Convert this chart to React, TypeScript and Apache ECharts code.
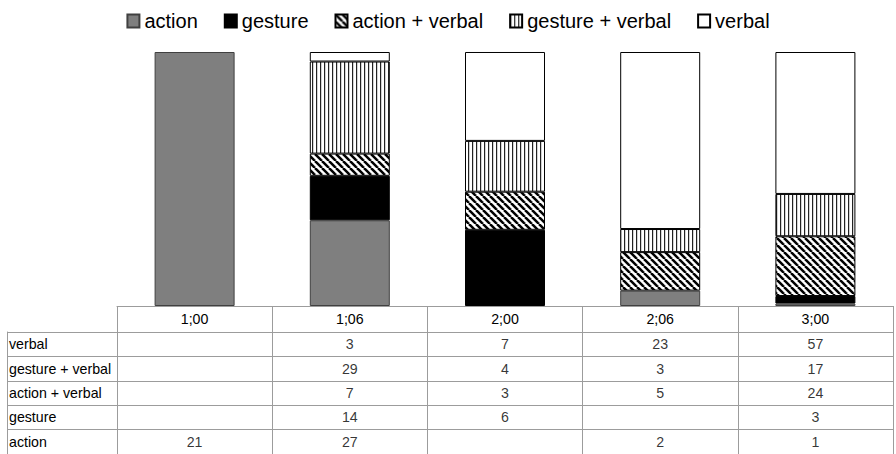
import React, { useEffect, useRef } from 'react';
import * as echarts from 'echarts';

const categories = ['1;00', '1;06', '2;00', '2;06', '3;00'];
const actionValues: (number | null)[] = [21, 27, null, 2, 1];
const gestureValues: (number | null)[] = [null, 14, 6, null, 3];
const actionVerbalValues: (number | null)[] = [null, 7, 3, 5, 24];
const gestureVerbalValues: (number | null)[] = [null, 29, 4, 3, 17];
const verbalValues: (number | null)[] = [null, 3, 7, 23, 57];
const tableRows = ['verbal', 'gesture + verbal', 'action + verbal', 'gesture', 'action'];

const FONT = 'Liberation Sans, Arial, sans-serif';
const GRID_LINE = '#9c9c9c';
const TABLE_FONT = 14.2;

function makeVertical(): HTMLCanvasElement {
  const c = document.createElement('canvas');
  c.width = 4;
  c.height = 4;
  const ctx = c.getContext('2d')!;
  ctx.fillStyle = '#fff';
  ctx.fillRect(0, 0, 4, 4);
  ctx.fillStyle = '#222';
  ctx.fillRect(0, 0, 1.2, 4);
  return c;
}

function makeDiagonal(): HTMLCanvasElement {
  const s = 7;
  const c = document.createElement('canvas');
  c.width = s;
  c.height = s;
  const ctx = c.getContext('2d')!;
  ctx.fillStyle = '#fff';
  ctx.fillRect(0, 0, s, s);
  ctx.strokeStyle = '#000';
  ctx.lineWidth = 2.5;
  for (let k = -1; k <= 1; k++) {
    ctx.beginPath();
    ctx.moveTo(k * s, 0);
    ctx.lineTo(k * s + s, s);
    ctx.stroke();
  }
  return c;
}

export default function App() {
  const ref = useRef<HTMLDivElement>(null);
  useEffect(() => {
    if (!ref.current) return;
    const chart = echarts.init(ref.current, null, { renderer: 'svg' });

    const groups: { name: string; values: (number | null)[]; style: any }[] = [
      { name: 'action', values: actionValues, style: { color: '#7f7f7f', borderColor: '#404040', borderWidth: 1 } },
      { name: 'gesture', values: gestureValues, style: { color: '#000000', borderColor: '#000', borderWidth: 1 } },
      {
        name: 'action + verbal',
        values: actionVerbalValues,
        style: { color: { image: makeDiagonal(), repeat: 'repeat' }, borderColor: '#000', borderWidth: 1 },
      },
      {
        name: 'gesture + verbal',
        values: gestureVerbalValues,
        style: { color: { image: makeVertical(), repeat: 'repeat' }, borderColor: '#000', borderWidth: 1 },
      },
      { name: 'verbal', values: verbalValues, style: { color: '#ffffff', borderColor: '#000', borderWidth: 1 } },
    ];

    const totals = categories.map((_, i) =>
      groups.reduce((s, g) => s + (g.values[i] ?? 0), 0)
    );

    const barSeries = groups.map((g) => ({
      name: g.name,
      type: 'bar',
      stack: 'total',
      xAxisIndex: 0,
      yAxisIndex: 0,
      barWidth: 80,
      itemStyle: g.style,
      data: g.values.map((v, i) => (v == null ? null : (v / totals[i]) * 100)),
    }));

    const tableData: [number, number, number][] = [];
    tableRows.forEach((rowName, r) => {
      const g = groups.find((x) => x.name === rowName)!;
      g.values.forEach((v, c) => {
        if (v != null) tableData.push([c, r, v]);
      });
    });

    chart.setOption({
      animation: false,
      textStyle: { fontFamily: FONT },
      legend: {
        data: groups.map((g) => g.name),
        top: 6,
        left: 'center',
        icon: 'rect',
        itemWidth: 12,
        itemHeight: 13,
        itemGap: 26,
        textStyle: { fontSize: 20, color: '#000', fontFamily: FONT },
      },
      grid: [
        { left: 117, right: 3, top: 52, height: 254 },
        { left: 117, right: 3, top: 332, height: 123 },
      ],
      xAxis: [
        {
          type: 'category',
          gridIndex: 0,
          data: categories,
          axisLine: { show: true, lineStyle: { color: GRID_LINE, width: 1 } },
          axisTick: { show: true, length: 26, lineStyle: { color: GRID_LINE, width: 1 } },
          axisLabel: {
            margin: 13,
            verticalAlign: 'middle',
            fontSize: TABLE_FONT,
            color: '#000',
            fontFamily: FONT,
          },
          splitLine: { show: false },
        },
        {
          type: 'category',
          gridIndex: 1,
          data: categories,
          position: 'top',
          axisLine: { show: true, lineStyle: { color: GRID_LINE, width: 1 } },
          axisTick: { show: false },
          axisLabel: { show: false },
          splitLine: { show: true, lineStyle: { color: GRID_LINE, width: 1 } },
        },
      ],
      yAxis: [
        { type: 'value', gridIndex: 0, min: 0, max: 100, show: false },
        {
          type: 'category',
          gridIndex: 1,
          data: tableRows,
          inverse: true,
          position: 'left',
          axisLine: { show: true, lineStyle: { color: GRID_LINE, width: 1 } },
          axisTick: { show: true, length: 110, lineStyle: { color: GRID_LINE, width: 1 } },
          axisLabel: {
            align: 'left',
            margin: 108,
            fontSize: TABLE_FONT,
            color: '#000',
            fontFamily: FONT,
          },
          splitLine: { show: true, lineStyle: { color: GRID_LINE, width: 1 } },
        },
        {
          type: 'category',
          gridIndex: 1,
          data: tableRows,
          inverse: true,
          position: 'left',
          offset: 110,
          axisLine: { show: true, lineStyle: { color: GRID_LINE, width: 1 } },
          axisTick: { show: false },
          axisLabel: { show: false },
          splitLine: { show: false },
        },
        {
          type: 'category',
          gridIndex: 1,
          data: tableRows,
          inverse: true,
          position: 'right',
          axisLine: { show: true, lineStyle: { color: GRID_LINE, width: 1 } },
          axisTick: { show: false },
          axisLabel: { show: false },
          splitLine: { show: false },
        },
      ],
      series: [
        ...barSeries,
        {
          name: 'table',
          type: 'scatter',
          xAxisIndex: 1,
          yAxisIndex: 1,
          symbolSize: 1,
          itemStyle: { color: 'rgba(0,0,0,0)' },
          silent: true,
          label: {
            show: true,
            position: 'inside',
            formatter: (p: any) => String(p.value[2]),
            fontSize: TABLE_FONT,
            color: '#000',
            fontFamily: FONT,
          },
          data: tableData,
        },
      ],
    });

    return () => chart.dispose();
  }, []);

  return (
    <div
      ref={ref}
      style={{ position: 'fixed', left: 0, top: 0, width: 896, height: 454, background: '#fff' }}
    />
  );
}
